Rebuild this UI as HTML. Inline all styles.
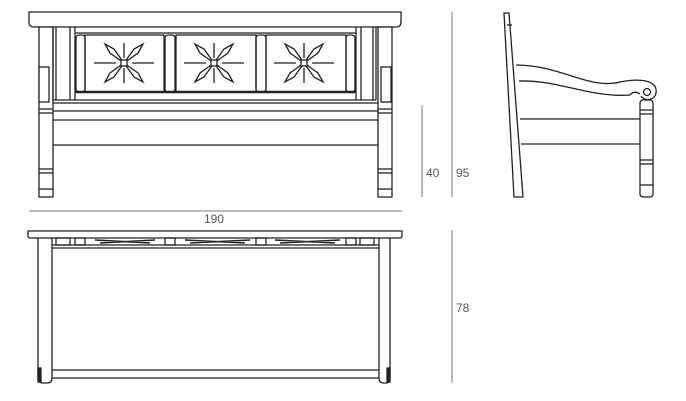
<!DOCTYPE html>
<html><head><style>html,body{margin:0;padding:0;background:#fff}svg{display:block}</style></head>
<body>
<svg width="686" height="401" viewBox="0 0 686 401" xmlns="http://www.w3.org/2000/svg" font-family="Liberation Sans, sans-serif">
<defs>
<g id="star">
<line x1="-30" y1="0" x2="-8" y2="0"/><line x1="8" y1="0" x2="30" y2="0"/>
<line x1="0" y1="-20" x2="0" y2="-5"/><line x1="0" y1="5" x2="0" y2="20"/>
<path d="M0 0 L-14 -10 L-19 -19 L-10 -14 Z M0 0 L14 -10 L19 -19 L10 -14 Z M0 0 L-14 10 L-19 19 L-10 14 Z M0 0 L14 10 L19 19 L10 14 Z" fill="none"/>
<rect x="-3" y="-3" width="6" height="6" fill="#fff"/>
</g>
<g id="leg">
<rect x="0" y="0" width="14" height="170" fill="#fff"/>
<line x1="0" y1="82" x2="14" y2="82"/><line x1="0" y1="86" x2="14" y2="86"/>
<line x1="0" y1="142" x2="14" y2="142"/><line x1="0" y1="146" x2="14" y2="146"/>
<line x1="0" y1="162" x2="14" y2="162"/>
</g>
</defs>
<g stroke="#222" stroke-width="1.3" fill="none">
<path d="M29 12 H401 V22 Q401 27 396 27 H34 Q29 27 29 22 Z"/>
<use href="#leg" x="39" y="27"/>
<use href="#leg" x="378" y="27"/>
<rect x="39" y="67" width="10" height="35" fill="#fff"/>
<rect x="381" y="67" width="10" height="35" fill="#fff"/>
<line x1="53" y1="27" x2="53" y2="100"/><line x1="56" y1="27" x2="56" y2="100"/>
<line x1="70" y1="27" x2="70" y2="100"/><line x1="75" y1="27" x2="75" y2="100"/>
<line x1="356" y1="27" x2="356" y2="100"/><line x1="361" y1="27" x2="361" y2="100"/>
<line x1="373" y1="27" x2="373" y2="100"/><line x1="376" y1="27" x2="376" y2="100"/>
<line x1="75" y1="33" x2="356" y2="33"/>
<rect x="85" y="35" width="79" height="57"/>
<rect x="176" y="35" width="80" height="57"/>
<rect x="266" y="35" width="80" height="57"/>
<rect x="76" y="35" width="9" height="57" rx="3"/>
<rect x="165" y="35" width="10" height="57" rx="3"/>
<rect x="256" y="35" width="10" height="57" rx="3"/>
<rect x="346" y="35" width="9" height="57" rx="3"/>
<line x1="75" y1="92" x2="356" y2="92" stroke-width="2.5"/>
<line x1="53" y1="100" x2="376" y2="100"/>
<line x1="53" y1="103" x2="378" y2="103"/>
<line x1="53" y1="111" x2="378" y2="111"/>
<line x1="53" y1="120" x2="378" y2="120"/>
<line x1="53" y1="145" x2="378" y2="145"/>
<use href="#star" x="124" y="63"/>
<use href="#star" x="214" y="63"/>
<use href="#star" x="304" y="63"/>
<g stroke="#777" stroke-width="1">
<line x1="422" y1="105" x2="422" y2="197"/>
<line x1="452" y1="12" x2="452" y2="197"/>
<line x1="29" y1="211" x2="402" y2="211"/>
<line x1="452" y1="230" x2="452" y2="383"/>
</g>
<path d="M28 231 H402 V236 Q402 238 400 238 H30 Q28 238 28 236 Z"/>
<line x1="52" y1="248" x2="379" y2="248"/>
<line x1="52" y1="245" x2="379" y2="245"/>
<rect x="56" y="238" width="14" height="7"/><rect x="75" y="238" width="10" height="7"/>
<rect x="165" y="238" width="10" height="7"/><rect x="256" y="238" width="10" height="7"/>
<rect x="346" y="238" width="10" height="7"/><rect x="360" y="238" width="14" height="7"/>
<path d="M95 240 L150 243 M100 243 L155 240 M185 240 L245 243 M190 243 L250 240 M275 240 L335 243 M280 243 L340 240" stroke-width="1.5"/>
<path d="M38 238 V378 Q38 383 43 383 H47 Q52 383 52 378 V238"/>
<path d="M379 238 V378 Q379 383 384 383 H386 Q390 383 390 378 V238"/>
<rect x="38" y="368" width="3" height="14" fill="#222"/>
<rect x="387" y="368" width="3" height="14" fill="#222"/>
<line x1="52" y1="370" x2="379" y2="370"/>
<line x1="52" y1="378" x2="379" y2="378"/>
<path d="M504 13 L509 13 L523 197 L514 197 Z" fill="#fff"/>
<line x1="507" y1="25" x2="512" y2="25"/>
<path d="M516 65 C560 65 590 90 620 82 C640 78 658 80 656 93 C655 100 645 102 641 96"/>
<path d="M519 81 C560 80 590 98 630 95"/>
<circle cx="647" cy="92" r="3.5"/>
<path d="M630 95 Q634 90 640 94"/>
<rect x="640" y="100" width="13" height="97" rx="3" fill="#fff"/>
<line x1="640" y1="110" x2="653" y2="110"/><line x1="640" y1="114" x2="653" y2="114"/>
<line x1="640" y1="160" x2="653" y2="160"/><line x1="640" y1="164" x2="653" y2="164"/>
<line x1="640" y1="185" x2="653" y2="185"/>
<line x1="520" y1="119" x2="640" y2="119"/>
<line x1="521" y1="144" x2="640" y2="144"/>
</g>
<g fill="#555" font-size="12">
<text x="426" y="177">40</text>
<text x="456" y="177">95</text>
<text x="204" y="223">190</text>
<text x="456" y="312">78</text>
</g>
</svg>
</body></html>
